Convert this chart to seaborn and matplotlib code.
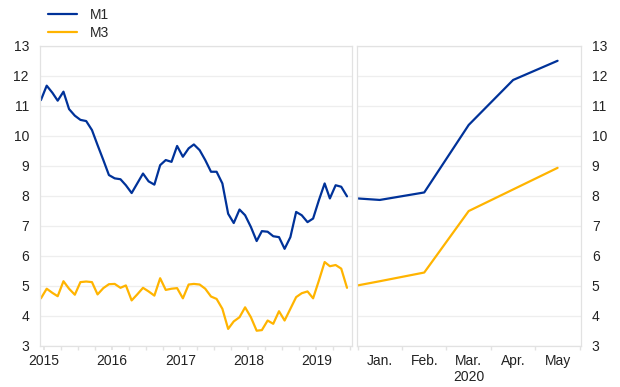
import matplotlib
matplotlib.use("Agg")
import matplotlib.pyplot as plt
import matplotlib.dates as mdates
import numpy as np
import pandas as pd
import seaborn as sns

# monthly history, Dec 2014 - Jun 2019 (plotted mid-month)
HIST_START = "2014-12-01"
M1_HIST = [11.19, 11.67, 11.43, 11.17, 11.47, 10.89, 10.67, 10.53, 10.49, 10.19,
           9.69, 9.19, 8.69, 8.58, 8.55, 8.35, 8.09, 8.41, 8.74, 8.48,
           8.37, 9.02, 9.19, 9.13, 9.66, 9.30, 9.58, 9.71, 9.52, 9.19,
           8.80, 8.80, 8.41, 7.40, 7.09, 7.54, 7.35, 6.96, 6.49, 6.82,
           6.80, 6.65, 6.62, 6.23, 6.62, 7.46, 7.35, 7.12, 7.24, 7.85,
           8.41, 7.91, 8.35, 8.30, 7.98]
M3_HIST = [4.58, 4.90, 4.76, 4.65, 5.15, 4.90, 4.70, 5.12, 5.14, 5.12,
           4.71, 4.92, 5.05, 5.06, 4.93, 5.01, 4.51, 4.71, 4.93, 4.81,
           4.67, 5.25, 4.86, 4.90, 4.92, 4.58, 5.04, 5.06, 5.04, 4.90,
           4.64, 4.56, 4.23, 3.56, 3.81, 3.95, 4.28, 3.95, 3.50, 3.52,
           3.84, 3.73, 4.15, 3.84, 4.23, 4.62, 4.75, 4.81, 4.58, 5.17,
           5.79, 5.65, 5.69, 5.57, 4.93]

# 2020 panel: value at start of January, then Jan..May
MONTHS_2020 = ["Jan.", "Feb.", "Mar.", "Apr.", "May"]
M1_START = 7.91
M3_START = 5.01
M1_2020 = [7.86, 8.11, 10.36, 11.86, 12.50]
M3_2020 = [5.15, 5.44, 7.49, 8.21, 8.93]

BLUE = "#003299"
YELLOW = "#FFB400"
GRID = "#eeeeee"
SPINE = "#e2e2e2"

sns.set_theme(style="white")
plt.rcParams["font.family"] = ["Liberation Sans", "DejaVu Sans"]
plt.rcParams["font.size"] = 10

dates = pd.date_range(HIST_START, periods=len(M1_HIST), freq="MS") + pd.Timedelta(days=14)
hist = pd.DataFrame({"date": dates, "M1": M1_HIST, "M3": M3_HIST})

x20 = np.concatenate([[-0.5], np.arange(len(MONTHS_2020))])
recent = pd.DataFrame({"x": x20,
                       "M1": [M1_START] + M1_2020,
                       "M3": [M3_START] + M3_2020})

fig = plt.figure(figsize=(6.2, 3.87), dpi=100)
ax1 = fig.add_axes([0.0645, 0.1067, 0.5027, 0.775])
ax2 = fig.add_axes([0.5753, 0.1067, 0.3613, 0.775])

sns.lineplot(data=hist, x="date", y="M1", ax=ax1, color=BLUE, lw=1.6, label="M1")
sns.lineplot(data=hist, x="date", y="M3", ax=ax1, color=YELLOW, lw=1.6, label="M3")
sns.lineplot(data=recent, x="x", y="M1", ax=ax2, color=BLUE, lw=1.6)
sns.lineplot(data=recent, x="x", y="M3", ax=ax2, color=YELLOW, lw=1.6)

for ax in (ax1, ax2):
    ax.set_ylim(3, 13)
    ax.set_yticks(range(3, 14))
    ax.yaxis.grid(True, color=GRID, lw=0.9)
    ax.set_axisbelow(True)
    ax.set_xlabel("")
    ax.set_ylabel("")
    for s in ax.spines.values():
        s.set_color(SPINE)
        s.set_linewidth(0.9)
    ax.tick_params(axis="y", length=0, labelsize=10, colors="#222222")
    ax.tick_params(axis="x", which="both", bottom=True, length=3, color=SPINE,
                   labelsize=10, labelcolor="#222222", pad=3)

ax1.set_xlim(pd.Timestamp("2014-12-10"), pd.Timestamp("2019-07-10"))
ax1.xaxis.set_major_locator(mdates.YearLocator())
ax1.xaxis.set_major_formatter(mdates.DateFormatter("%Y"))
ax1.xaxis.set_minor_locator(mdates.MonthLocator(bymonth=[4, 7, 10]))
ax1.tick_params(axis="y", pad=8)
ax1.legend_.remove()

ax2.set_xlim(-0.52, 4.52)
ax2.set_xticks(range(len(MONTHS_2020)))
labels = list(MONTHS_2020)
labels[2] = labels[2] + "\n2020"
ax2.set_xticklabels(labels, va="top")
ax2.set_xticks(np.arange(-0.5, len(MONTHS_2020), 1.0), minor=True)
ax2.tick_params(axis="x", which="major", length=0, pad=6)
ax2.yaxis.tick_right()
ax2.tick_params(axis="y", pad=8)

handles, lbls = ax1.get_legend_handles_labels()
fig.legend(handles, lbls, loc="upper left", bbox_to_anchor=(0.077, 0.98),
           frameon=False, fontsize=10, handlelength=2.1, handletextpad=0.95,
           labelspacing=0.3, borderaxespad=0, borderpad=0)

fig.savefig("out.png", dpi=100)
